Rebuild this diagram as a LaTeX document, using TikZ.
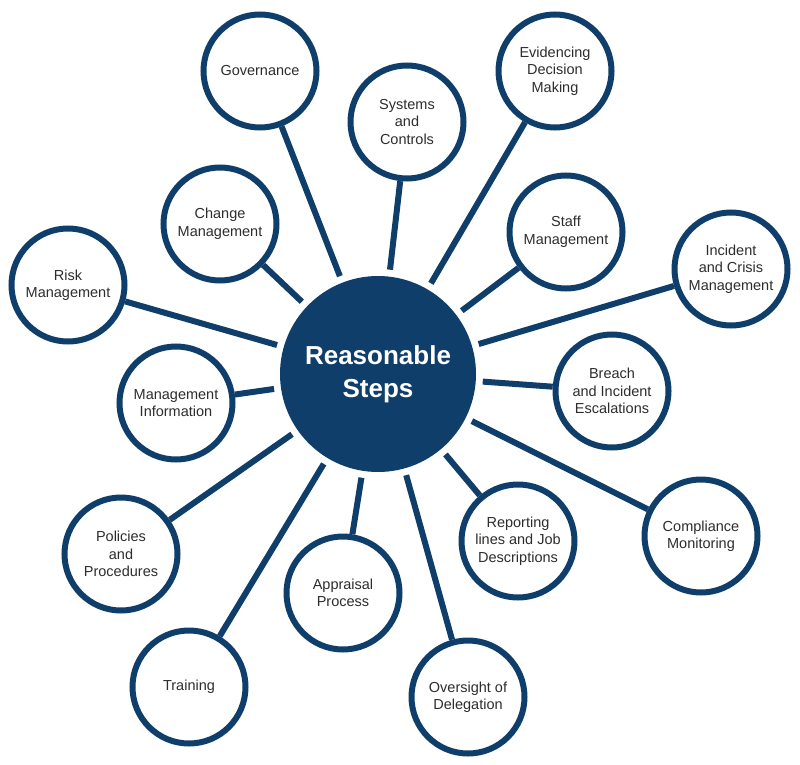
\documentclass[tikz,border=0pt]{standalone}
\usepackage{fontspec}
\setmainfont{Liberation Sans}
\definecolor{navy}{RGB}{14,62,105}
\definecolor{txt}{RGB}{45,45,45}
\tikzset{
  outer/.style={circle, draw=navy, line width=6pt, fill=white, minimum size=113pt, inner sep=0pt,
    align=center, text=txt, font=\fontsize{14.5}{17.5}\selectfont},
  hub/.style={circle, fill=navy, minimum size=196pt, inner sep=0pt, outer sep=0pt,
    align=center, text=white, font=\fontsize{26}{33}\selectfont\bfseries},
  conn/.style={draw=navy, line width=6pt, shorten <=7pt}
}
\begin{document}
\begin{tikzpicture}[x=1pt,y=-1pt]
\useasboundingbox (0,0) rectangle (800,765);
\node[hub] (c) at (378,374) {Reasonable\\Steps};
\node[outer] (gov) at (260,71) {Governance};
\node[outer] (sys) at (407,122) {Systems\\and\\Controls};
\node[outer] (evi) at (555,71) {Evidencing\\Decision\\Making};
\node[outer] (chg) at (220,224) {Change\\Management};
\node[outer] (stf) at (566,232) {Staff\\Management};
\node[outer] (rsk) at (68,285) {Risk\\Management};
\node[outer] (inc) at (731,269) {Incident\\and Crisis\\Management};
\node[outer] (mi) at (176,403) {Management\\Information};
\node[outer] (brc) at (612,391) {Breach\\and Incident\\Escalations};
\node[outer] (pol) at (121,554) {Policies\\and\\Procedures};
\node[outer] (cmp) at (701,536) {Compliance\\Monitoring};
\node[outer] (rep) at (518,541) {Reporting\\lines and Job\\Descriptions};
\node[outer] (apr) at (343,593) {Appraisal\\Process};
\node[outer] (trn) at (189,687) {Training};
\node[outer] (ovs) at (468,697) {Oversight of\\Delegation};
\foreach \n in {gov,sys,evi,chg,stf,rsk,inc,mi,brc,pol,cmp,rep,apr,trn,ovs}
  \draw[conn] (c) -- (\n);
\end{tikzpicture}
\end{document}
